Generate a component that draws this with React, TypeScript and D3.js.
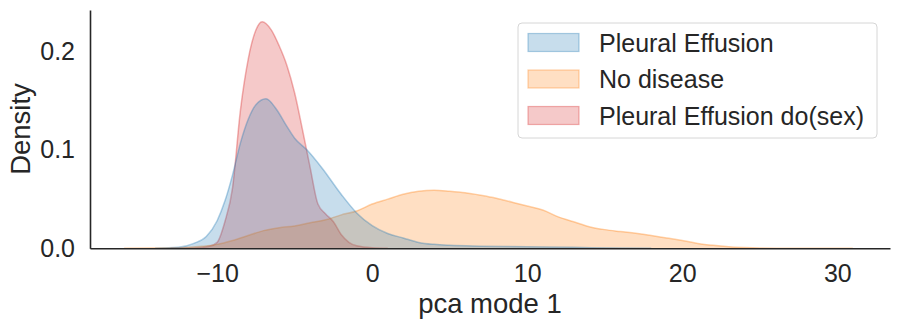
import React, { useEffect, useRef } from "react";
import * as d3 from "d3";

// kde curves, [pca mode 1, density]
const effusion: [number, number][] = [
  [-14, 0], [-12.5, 0.001], [-11.5, 0.005], [-10.7, 0.012], [-10, 0.028], [-9.5, 0.048],
  [-9, 0.075], [-8.5, 0.107], [-8, 0.131], [-7.5, 0.146], [-6.85, 0.152], [-6.2, 0.142],
  [-5.5, 0.124], [-5, 0.112], [-4.2, 0.1], [-3.2, 0.081], [-2, 0.055], [-1, 0.036],
  [0, 0.023], [1, 0.015], [2, 0.0105], [3, 0.006], [4, 0.004], [5, 0.003], [7, 0.0022],
  [10, 0.0017], [13, 0.001], [16, 0.0002], [18, 0],
];

const noDisease: [number, number][] = [
  [-16, 0], [-12.5, 0.0005], [-11, 0.002], [-10, 0.004], [-9, 0.008], [-8, 0.013],
  [-7, 0.018], [-6, 0.021], [-5, 0.0228], [-4, 0.026], [-3, 0.029], [-2, 0.034],
  [-1, 0.038], [0, 0.045], [1, 0.05], [2, 0.055], [3, 0.058], [4, 0.059], [5, 0.058],
  [6, 0.0565], [7, 0.054], [8, 0.051], [9, 0.047], [10, 0.043], [11, 0.039], [12, 0.032],
  [13, 0.027], [14, 0.022], [15, 0.019], [16, 0.017], [17, 0.0152], [18, 0.013],
  [19, 0.0105], [20, 0.008], [21, 0.005], [22, 0.003], [23, 0.0016], [24, 0.0008],
  [25, 0.0003], [27, 0], [31, 0],
];

const effusionDoSex: [number, number][] = [
  [-13, 0], [-11.5, 0.0003], [-10.5, 0.002], [-10, 0.006], [-9.5, 0.027], [-9, 0.062],
  [-8.5, 0.14], [-8, 0.192], [-7.5, 0.222], [-7.1, 0.2305], [-6.5, 0.222], [-6, 0.206],
  [-5.5, 0.186], [-5, 0.158], [-4.5, 0.121], [-4, 0.082], [-3.5, 0.045], [-3, 0.035],
  [-2.5, 0.027], [-2, 0.014], [-1.5, 0.006], [-1, 0.0025], [0, 0.0005], [1, 0],
];

const labels = ["Pleural Effusion", "No disease", "Pleural Effusion do(sex)"];
const colors = ["#1f77b4", "#ff7f0e", "#d62728"];
const xTicks = [-10, 0, 10, 20, 30];
const yTicks = [0, 0.1, 0.2];

const W = 900, H = 327;
const font = "'Liberation Sans', Arial, sans-serif";

function App() {
  const ref = useRef<SVGSVGElement>(null);

  useEffect(() => {
    const svg = d3.select(ref.current);
    svg.selectAll("*").remove();

    const x = d3.scaleLinear().domain([-18.2, 33.4]).range([90, 890]);
    const y = d3.scaleLinear().domain([0, 0.2424]).range([248.3, 10]);

    const area = d3.area<[number, number]>()
      .x(d => x(d[0]))
      .y0(y(0))
      .y1(d => y(d[1]))
      .curve(d3.curveMonotoneX);
    const line = d3.line<[number, number]>()
      .x(d => x(d[0]))
      .y(d => y(d[1]))
      .curve(d3.curveMonotoneX);

    const series = [effusion, noDisease, effusionDoSex];
    // seaborn layers the first hue on top, so draw back to front
    [2, 1, 0].forEach(i => {
      svg.append("path")
        .attr("d", area(series[i]))
        .attr("fill", colors[i])
        .attr("fill-opacity", 0.25);
      svg.append("path")
        .attr("d", line(series[i]))
        .attr("fill", "none")
        .attr("stroke", colors[i])
        .attr("stroke-opacity", 0.35)
        .attr("stroke-width", 1.5);
    });

    const gx = svg.append("g")
      .attr("transform", `translate(0,${y(0)})`)
      .call(d3.axisBottom(x).tickValues(xTicks).tickSize(0).tickSizeOuter(0).tickPadding(16));
    const gy = svg.append("g")
      .attr("transform", `translate(${x.range()[0]},0)`)
      .call(d3.axisLeft(y).tickValues(yTicks).tickFormat(d3.format(".1f")).tickSize(0).tickSizeOuter(0).tickPadding(15));

    [gx, gy].forEach(g => {
      g.select(".domain").attr("stroke", "#262626").attr("stroke-width", 1.6);
      g.selectAll("text")
        .attr("fill", "#262626")
        .style("font-family", font)
        .style("font-size", "25px");
    });

    svg.append("text")
      .attr("x", 490).attr("y", 313)
      .attr("text-anchor", "middle")
      .attr("fill", "#262626")
      .style("font-family", font).style("font-size", "27.5px")
      .text("pca mode 1");
    svg.append("text")
      .attr("transform", "translate(29.5,129) rotate(-90)")
      .attr("text-anchor", "middle")
      .attr("fill", "#262626")
      .style("font-family", font).style("font-size", "27.5px")
      .text("Density");

    // legend
    const lg = svg.append("g");
    lg.append("rect")
      .attr("x", 518).attr("y", 23).attr("width", 359).attr("height", 115)
      .attr("rx", 4)
      .attr("fill", "white").attr("fill-opacity", 0.8)
      .attr("stroke", "#d6d6d6").attr("stroke-width", 1);
    labels.forEach((lab, i) => {
      const cy = 42.5 + i * 36.5;
      lg.append("rect")
        .attr("x", 528).attr("y", cy - 9).attr("width", 51).attr("height", 18)
        .attr("fill", colors[i]).attr("fill-opacity", 0.25)
        .attr("stroke", colors[i]).attr("stroke-opacity", 0.35).attr("stroke-width", 1.2);
      lg.append("text")
        .attr("x", 599).attr("y", cy + 9)
        .attr("fill", "#262626")
        .style("font-family", font).style("font-size", "25px")
        .text(lab);
    });
  }, []);

  return (
    <svg ref={ref} width={W} height={H}
      style={{ position: "absolute", left: 0, top: 0, background: "white" }} />
  );
}

export default App;
